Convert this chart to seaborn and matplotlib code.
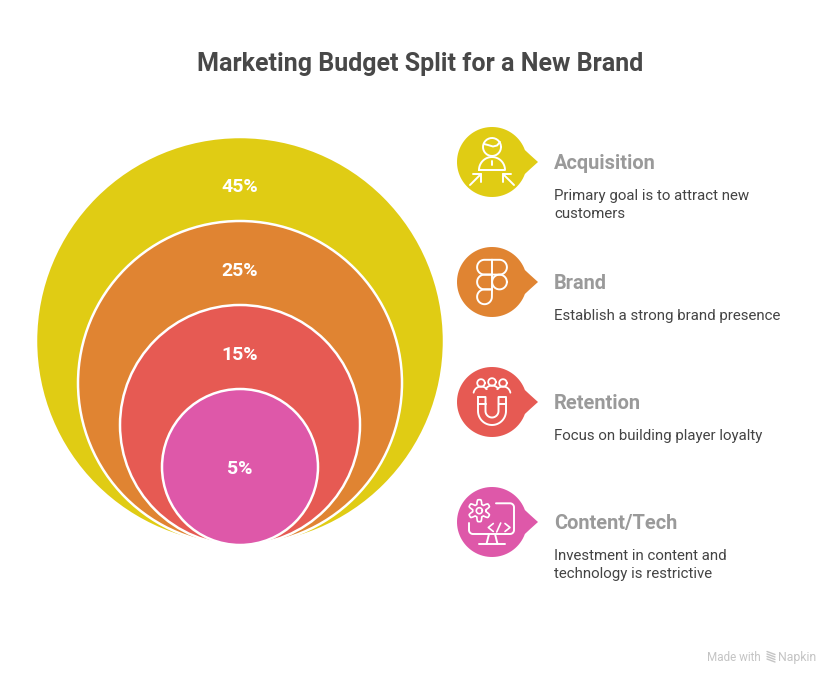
import numpy as np
import pandas as pd
import matplotlib
matplotlib.use('Agg')
import matplotlib.pyplot as plt
import seaborn as sns
from matplotlib.path import Path
from matplotlib.patches import PathPatch

categories = ['Acquisition', 'Brand', 'Retention', 'Content/Tech']
shares = [45, 25, 15, 5]
descriptions = [
    'Primary goal is to attract new\ncustomers',
    'Establish a strong brand presence',
    'Focus on building player loyalty',
    'Investment in content and\ntechnology is restrictive',
]
colors = ['#E0CC14', '#E08432', '#E65A53', '#DE58A9']
title = 'Marketing Budget Split for a New Brand'

sns.set_theme(style='white')
plt.rcParams['font.family'] = ['Roboto', 'DejaVu Sans']

# nested circles all sit on the same bottom edge, the radius grows by rank
CX, BOTTOM = 240, 545
rank = np.arange(len(categories))[::-1]
radius = 78 + 42 * rank
df = pd.DataFrame({'category': categories, 'share': shares, 'radius': radius})
df['x'] = CX
df['y'] = BOTTOM - df['radius']
marker_size = dict(zip(categories, (2 * df['radius'] * 0.72) ** 2))

fig, ax = plt.subplots(figsize=(8.4, 6.84), dpi=100)
fig.subplots_adjust(0, 0, 1, 1)

sns.scatterplot(data=df, x='x', y='y', hue='category', size='category', sizes=marker_size,
                palette=dict(zip(categories, colors)), edgecolor='white', linewidth=1.8,
                alpha=1, legend=False, ax=ax, clip_on=False)

ax.set_xlim(0, 840)
ax.set_ylim(684, 0)
ax.axis('off')

# percent labels
for _, row in df.iterrows():
    top = row['y'] - row['radius']
    label_y = row['y'] + 2.5 if row['share'] == 5 else top + 50
    ax.text(CX, label_y, f"{row['share']}%", color='white', fontsize=14, fontweight='bold',
            ha='center', va='center')

ax.text(420, 64, title, color='#484848', fontsize=18, fontweight='bold', ha='center', va='center')


def stroke(cx, cy, pts, lw=1.4):
    pts = np.array(pts, dtype=float)
    ax.plot(cx + pts[:, 0], cy + pts[:, 1], color='white', lw=lw, solid_capstyle='round',
            solid_joinstyle='round', zorder=5)


def arc(x0, y0, r, a0, a1, n=30):
    t = np.radians(np.linspace(a0, a1, n))
    return np.column_stack([x0 + r * np.cos(t), y0 + r * np.sin(t)])


def bubble(cx, cy, color):
    r = 35
    t = np.radians(np.linspace(20, 340, 80))
    pts = np.column_stack([cx + r * np.cos(t), cy + r * np.sin(t)])
    verts = [tuple(p) for p in pts] + [(cx + 37, cy - 8), (cx + 46, cy), (cx + 37, cy + 8), tuple(pts[0])]
    codes = [Path.MOVETO] + [Path.LINETO] * 79 + [Path.CURVE3, Path.LINETO, Path.CURVE3, Path.LINETO]
    ax.add_patch(PathPatch(Path(verts, codes), facecolor=color, edgecolor='none', zorder=4))


def icon_person(cx, cy):
    stroke(cx, cy, arc(0, -15, 9, 0, 360))
    stroke(cx, cy, [(-8, -18), (-4, -17), (1, -15.5), (5, -16.5), (8, -20)])
    stroke(cx, cy, np.vstack([arc(0, 8, 13, 180, 360), [(-13, 8)]]))
    stroke(cx, cy, [(0, -1), (0, 3)])
    for s in (-1, 1):
        stroke(cx, cy, [(s * 22, 23), (s * 11, 12)])
        stroke(cx, cy, [(s * 19, 12), (s * 11, 12), (s * 11, 20)])


def icon_figma(cx, cy):
    R = 7.4
    stroke(cx, cy, np.vstack([[(0, -22.2)], arc(-7.5, -14.8, R, 270, 90), [(0, -7.4), (0, -22.2)]]))
    stroke(cx, cy, np.vstack([[(0, -22.2)], arc(7.5, -14.8, R, -90, 90), [(0, -7.4)]]))
    stroke(cx, cy, np.vstack([[(0, -7.4)], arc(-7.5, 0, R, 270, 90), [(0, 7.4), (0, -7.4)]]))
    stroke(cx, cy, arc(7.5, 0, R, 0, 360))
    stroke(cx, cy, np.vstack([[(0, 7.4)], arc(-7.5, 14.8, R, 270, 90), arc(-7.5, 14.8, R, 90, 0),
                              [(0, 7.4)]]))


def icon_magnet(cx, cy):
    for hx, hy in [(-11, -19), (0, -20), (11, -19)]:
        stroke(cx, cy, arc(hx, hy, 3.8, 0, 360), lw=1.3)
    stroke(cx, cy, arc(-11, -8, 7.5, 190, 320), lw=1.3)
    stroke(cx, cy, arc(0, -9, 7.5, 215, 325), lw=1.3)
    stroke(cx, cy, arc(11, -8, 7.5, 220, 350), lw=1.3)
    outer = arc(0, 9, 14, 180, 0)
    inner = arc(0, 9, 6.5, 0, 180)
    stroke(cx, cy, np.vstack([[(-14, -5)], outer, [(14, -5), (6.5, -5)], inner, [(-6.5, -5), (-14, -5)]]))
    stroke(cx, cy, [(-14, 1.5), (-6.5, 1.5)])
    stroke(cx, cy, [(6.5, 1.5), (14, 1.5)])


def icon_tech(cx, cy):
    # gear
    ang = np.radians(np.arange(0, 361, 3))
    rad = 8.8 + 2.2 * np.clip(1.6 * np.cos(6 * (ang - np.pi / 6)), -1, 1)
    stroke(cx - 12.7, cy - 11.3, np.column_stack([rad * np.cos(ang), rad * np.sin(ang)]), lw=1.2)
    stroke(cx - 12.7, cy - 11.3, arc(0, 0, 3, 0, 360), lw=1.2)
    # monitor
    screen = np.vstack([[(4, -18.7)], arc(18, -14.7, 4, -90, 0), arc(18, 8, 4, 0, 90),
                        arc(-19, 8, 4, 90, 180), [(-23, 1)]])
    stroke(cx, cy, screen)
    stroke(cx, cy, [(-3, 12), (-5.5, 22)])
    stroke(cx, cy, [(3, 12), (5.5, 22)])
    stroke(cx, cy, [(-13, 22), (13, 22)])
    # code brackets
    stroke(cx, cy, [(1.3, 1.5), (-3.7, 5.5), (1.3, 9.5)], lw=1.2)
    stroke(cx, cy, [(8.7, 1), (4.7, 10)], lw=1.2)
    stroke(cx, cy, [(13, 1.5), (18, 5.5), (13, 9.5)], lw=1.2)


icons = [icon_person, icon_figma, icon_magnet, icon_tech]

# right hand column
for i, cat in enumerate(categories):
    cy = 162 + 120 * i
    bubble(492, cy, colors[i])
    icons[i](492, cy)
    ax.text(554, cy + 1.6, cat, color='#9A9A9A', fontsize=14.4, fontweight='bold', ha='left', va='center')
    ax.text(554, cy + 34.4, descriptions[i].split('\n')[0], color='#444444', fontsize=10.8,
            ha='left', va='center')
    if '\n' in descriptions[i]:
        ax.text(554, cy + 52, descriptions[i].split('\n')[1], color='#444444', fontsize=10.8,
                ha='left', va='center')

# footer
ax.text(707, 661, 'Made with', color='#C4C4C4', fontsize=8.4, ha='left', va='baseline')
ax.text(778, 661, 'Napkin', color='#C4C4C4', fontsize=8.8, ha='left', va='baseline')
for dy in (-4, -1.5, 1, 3.5):
    ax.plot([767, 775], [657 + dy - 1.5, 657 + dy + 1.5], color='#C4C4C4', lw=1)

plt.savefig('out.png', dpi=100)
